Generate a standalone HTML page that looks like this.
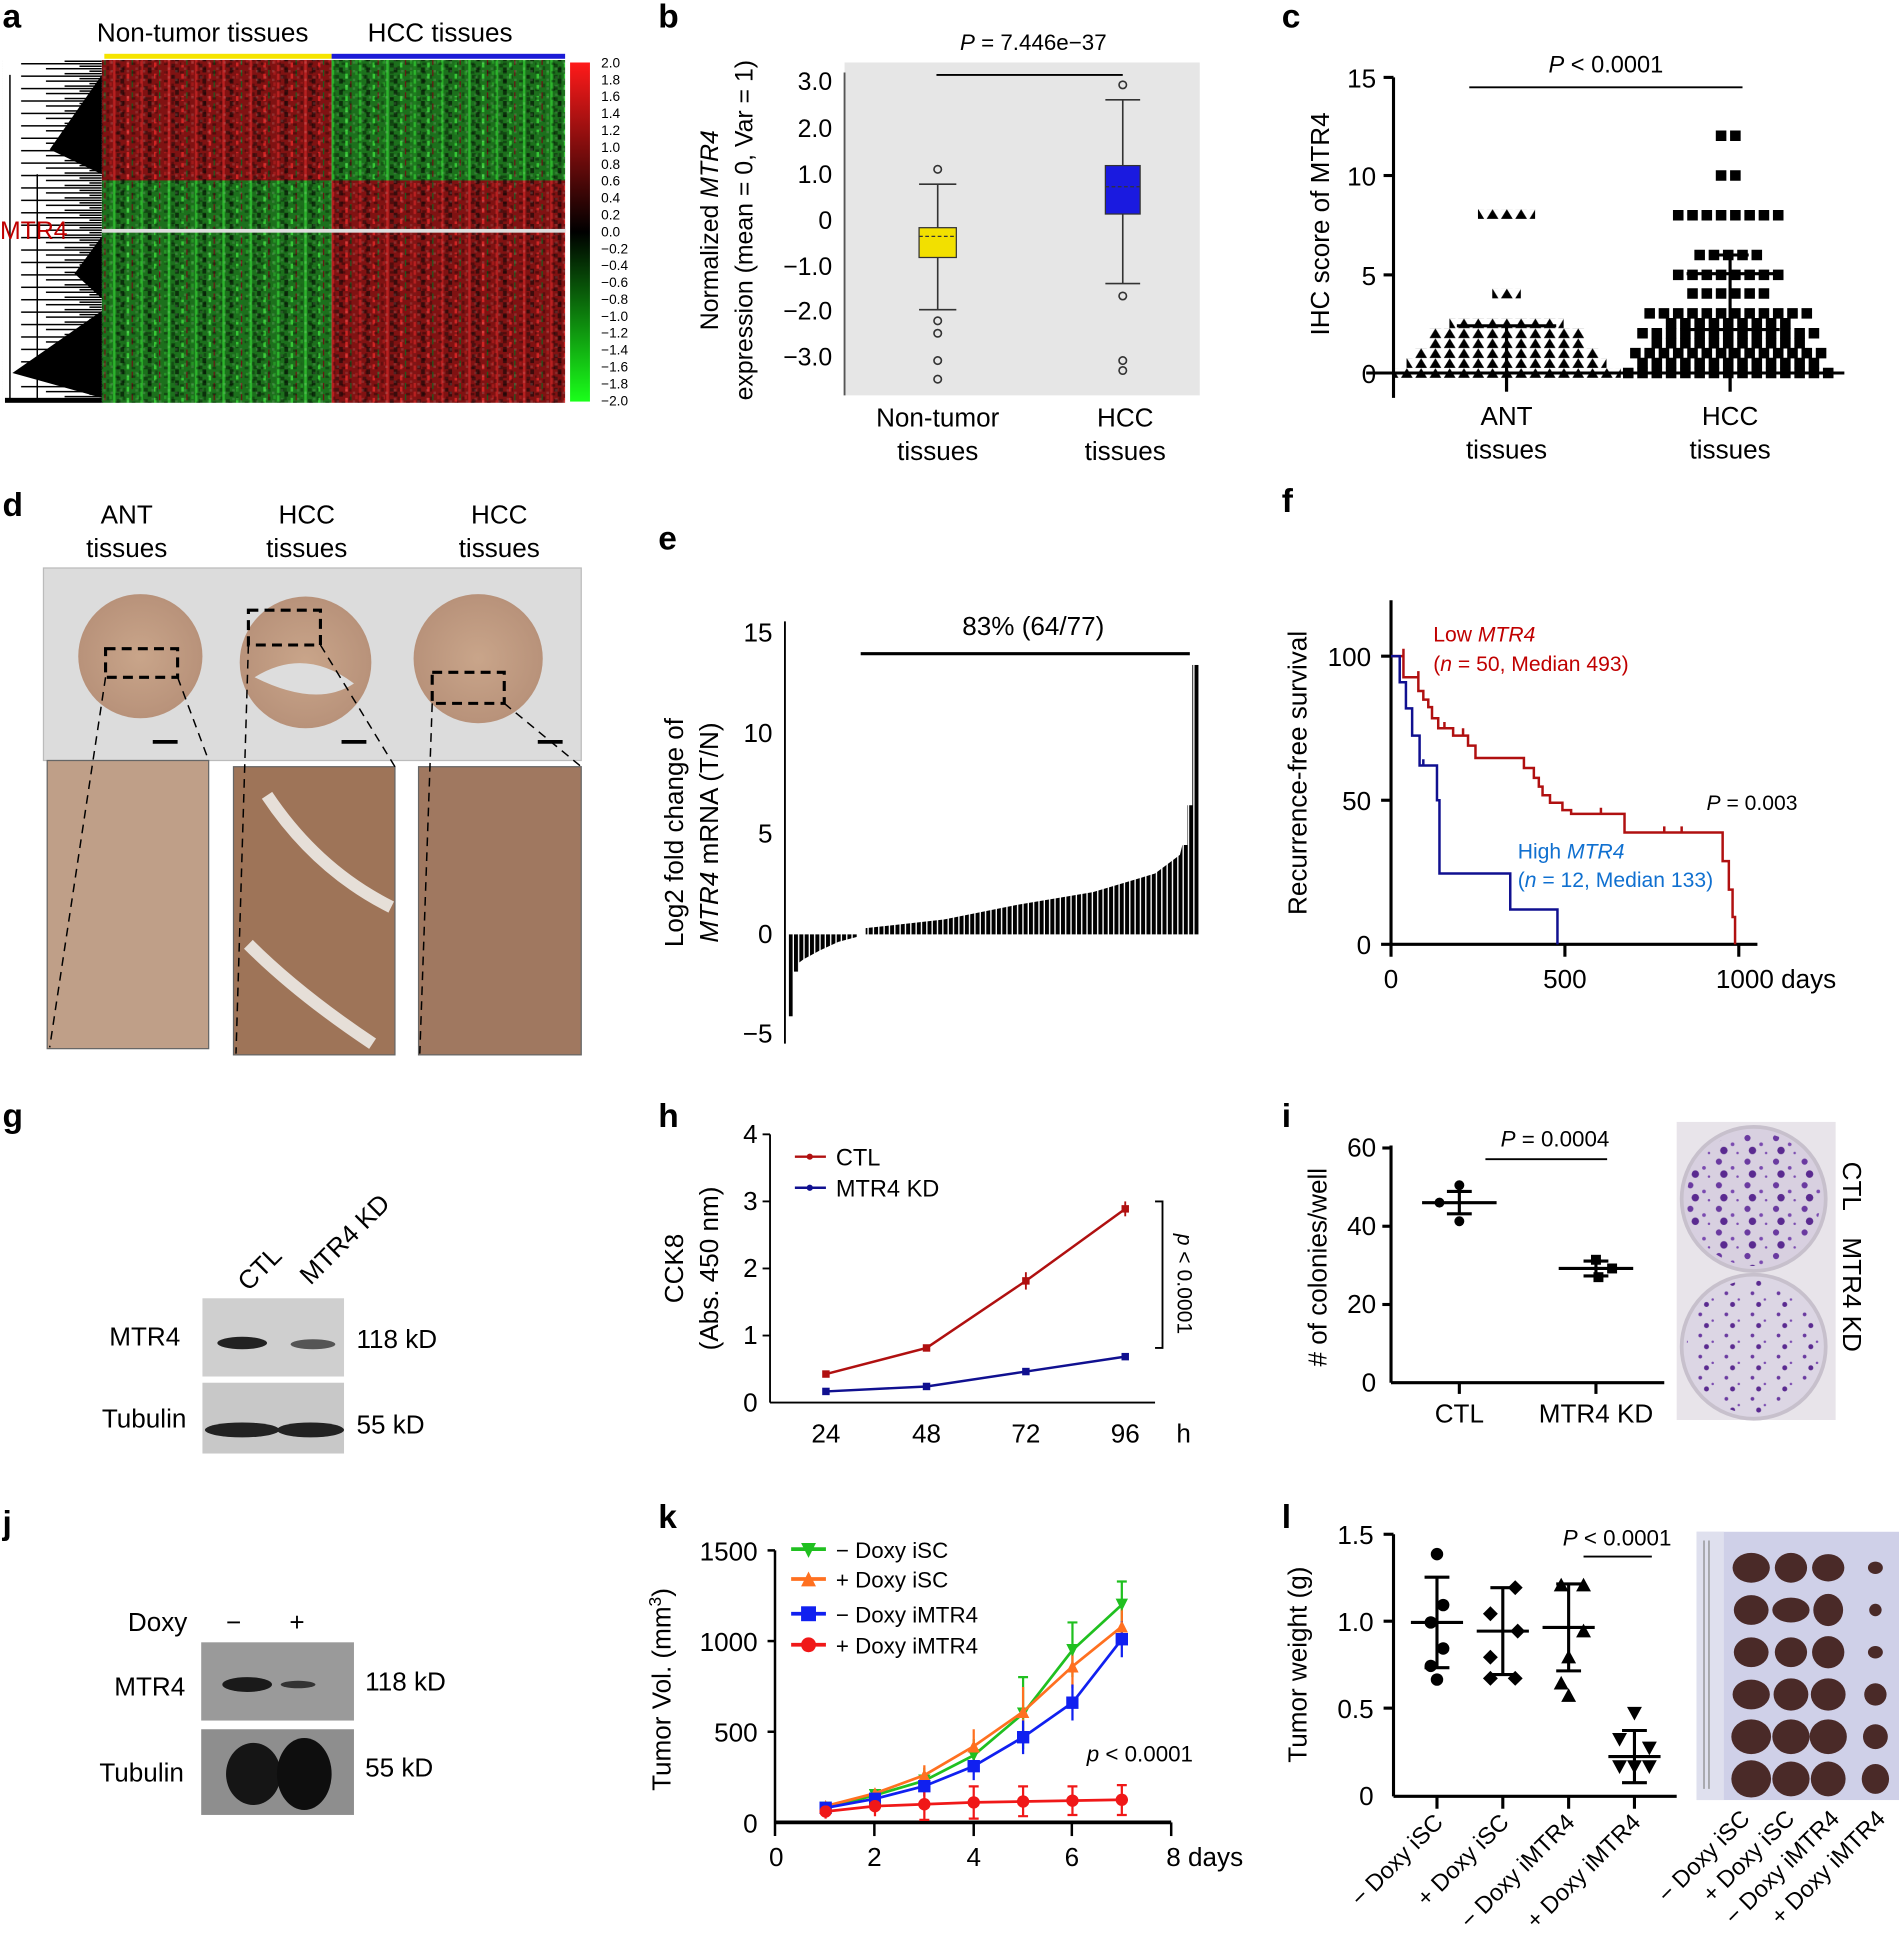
<!DOCTYPE html>
<html><head><meta charset="utf-8"><style>
html,body{margin:0;padding:0;background:#fff}
svg{display:block}
text{font-family:"Liberation Sans",Arial,sans-serif}
</style></head><body>
<svg xmlns="http://www.w3.org/2000/svg" width="1899" height="1947" viewBox="0 0 1529 1567">
<defs>
<linearGradient id="cb" x1="0" y1="0" x2="0" y2="1">
<stop offset="0" stop-color="#ff1a1a"/><stop offset="0.5" stop-color="#000"/><stop offset="1" stop-color="#1aff1a"/>
</linearGradient>
<radialGradient id="tis" cx="0.5" cy="0.5" r="0.5"><stop offset="0" stop-color="#c9a58a"/><stop offset="1" stop-color="#b8927a"/></radialGradient>
<pattern id="hr" width="22" height="9" patternUnits="userSpaceOnUse"><rect width="22" height="9" fill="#801212"/><rect x="3" width="2" height="9" fill="#b82020"/><rect x="9" width="3" height="4" fill="#3a0c0c"/><rect x="14" y="5" width="2" height="4" fill="#d02424"/><rect x="18" y="2" width="1" height="5" fill="#1e5a1e"/><rect x="6" y="6" width="3" height="3" fill="#4a1010"/><rect x="0" y="3" width="2" height="3" fill="#a01a1a"/></pattern>
<pattern id="hg" width="22" height="9" patternUnits="userSpaceOnUse"><rect width="22" height="9" fill="#1c701c"/><rect x="3" width="2" height="9" fill="#2cb42c"/><rect x="9" width="3" height="4" fill="#0c300c"/><rect x="14" y="5" width="2" height="4" fill="#36c836"/><rect x="18" y="2" width="1" height="5" fill="#6a1414"/><rect x="6" y="6" width="3" height="3" fill="#104410"/><rect x="0" y="3" width="2" height="3" fill="#259525"/></pattern>
<pattern id="nz" width="13" height="7" patternUnits="userSpaceOnUse"><rect x="2" y="1" width="3" height="2" fill="#000" opacity="0.35"/><rect x="8" y="4" width="2" height="3" fill="#000" opacity="0.3"/><rect x="11" y="0" width="2" height="2" fill="#fff" opacity="0.12"/><rect x="5" y="5" width="2" height="2" fill="#fff" opacity="0.1"/></pattern>
<pattern id="dg" x="2" y="48" width="80" height="10" patternUnits="userSpaceOnUse"><path d="M50 1H80M15 3H80M62 5H80M35 7H80M70 9H80" stroke="#000" stroke-width="1.2"/></pattern>
<pattern id="eb" x="635" y="0" width="4.3" height="10" patternUnits="userSpaceOnUse"><rect width="3.2" height="10" fill="#000"/></pattern>
<clipPath id="ec"><path d="M635,752 L635,818 L638.5,818 L638.5,782 L643,782 L643,775 L647,772 L660,765 L675,758 L690,754 L690,752 L697,752 L697,747 L760,740 L820,728 L880,718 L930,703 L950,688 L952,680 L956,680 L956,648 L960,648 L960,535 L965,535 L965,752 Z"/></clipPath>
<pattern id="tp" x="0" y="0" width="11.5" height="8" patternUnits="userSpaceOnUse"><path d="M1,7.9 L10.5,7.9 L5.75,0.1 Z" fill="#000"/></pattern>
<pattern id="col" width="23" height="19" patternUnits="userSpaceOnUse"><circle cx="4" cy="4" r="2.5" fill="#6a3aa0"/><circle cx="15" cy="9" r="1.5" fill="#7a4ab0"/><circle cx="8" cy="14" r="3" fill="#5a2a90"/><circle cx="19" cy="16" r="1" fill="#7a4ab0"/></pattern>
<pattern id="col2" width="21" height="17" patternUnits="userSpaceOnUse"><circle cx="4" cy="4" r="1.5" fill="#6a3aa0"/><circle cx="14" cy="9" r="1" fill="#7a4ab0"/><circle cx="9" cy="13" r="2" fill="#5a2a90"/></pattern>
<marker id="mg" viewBox="0 0 10 10" refX="5" refY="5" markerWidth="10" markerHeight="10" markerUnits="userSpaceOnUse"><path d="M0,0 L10,0 L5,10Z" fill="#20c020"/></marker>
<marker id="mo" viewBox="0 0 10 10" refX="5" refY="5" markerWidth="10" markerHeight="10" markerUnits="userSpaceOnUse"><path d="M0,10 L10,10 L5,0Z" fill="#ff7020"/></marker>
<marker id="mb" viewBox="0 0 10 10" refX="5" refY="5" markerWidth="10" markerHeight="10" markerUnits="userSpaceOnUse"><rect width="10" height="10" fill="#1020f0"/></marker>
<marker id="mr" viewBox="0 0 10 10" refX="5" refY="5" markerWidth="10" markerHeight="10" markerUnits="userSpaceOnUse"><circle cx="5" cy="5" r="5" fill="#f01818"/></marker>
</defs>
<g font-size="21" fill="#000">
<g font-weight="bold" font-size="27">
<text x="2" y="22">a</text><text x="530" y="22">b</text><text x="1032" y="22">c</text>
<text x="2" y="415">d</text><text x="530" y="442">e</text><text x="1032" y="412">f</text>
<text x="2" y="907">g</text><text x="530" y="907">h</text><text x="1032" y="907">i</text>
<text x="2" y="1235">j</text><text x="530" y="1230">k</text><text x="1032" y="1230">l</text>
</g>

<!-- a -->
<text x="78" y="33">Non-tumor tissues</text><text x="296" y="33">HCC tissues</text>
<rect x="84" y="43" width="183" height="4" fill="#f5e400"/><rect x="267" y="43" width="188" height="4" fill="#1b1bd6"/>
<rect x="82" y="48" width="185" height="97" fill="url(#hr)"/>
<rect x="267" y="48" width="188" height="97" fill="url(#hg)"/>
<rect x="82" y="145" width="185" height="179" fill="url(#hg)"/>
<rect x="267" y="145" width="188" height="179" fill="url(#hr)"/>
<rect x="82" y="48" width="373" height="276" fill="url(#nz)"/>
<rect x="82" y="184" width="373" height="3" fill="#ddd"/>
<rect x="2" y="48" width="80" height="276" fill="url(#dg)"/>
<path d="M100 0" />
<g fill="#000"><path d="M82,60 L40,120 L82,140Z M82,190 L60,220 L82,240Z M82,250 L10,300 L82,320Z M82,70 L55,100 L82,110Z"/></g>
<line x1="8" y1="60" x2="8" y2="322" stroke="#000" stroke-width="1.2"/>
<line x1="30" y1="140" x2="30" y2="322" stroke="#000" stroke-width="1.2"/>
<rect x="4" y="320" width="78" height="4" fill="#000"/>
<text x="0" y="192" fill="#c00000" font-size="20">MTR4</text>
<rect x="459" y="50" width="16" height="273" fill="url(#cb)"/>
<g font-size="11">
<text x="484" y="54">2.0</text><text x="484" y="67.6">1.8</text><text x="484" y="81.2">1.6</text><text x="484" y="94.8">1.4</text><text x="484" y="108.4">1.2</text><text x="484" y="122">1.0</text><text x="484" y="135.6">0.8</text><text x="484" y="149.2">0.6</text><text x="484" y="162.8">0.4</text><text x="484" y="176.4">0.2</text><text x="484" y="190">0.0</text><text x="484" y="203.6">−0.2</text><text x="484" y="217.2">−0.4</text><text x="484" y="230.8">−0.6</text><text x="484" y="244.4">−0.8</text><text x="484" y="258">−1.0</text><text x="484" y="271.6">−1.2</text><text x="484" y="285.2">−1.4</text><text x="484" y="298.8">−1.6</text><text x="484" y="312.4">−1.8</text><text x="484" y="326">−2.0</text>
</g>

<!-- b -->
<rect x="680" y="50" width="286" height="268" fill="#e6e6e6"/>
<line x1="680" y1="58" x2="680" y2="318" stroke="#555" stroke-width="1.5"/>
<g font-size="20" text-anchor="end">
<text x="670" y="72">3.0</text><text x="670" y="110">2.0</text><text x="670" y="147">1.0</text><text x="670" y="184">0</text>
<text x="670" y="221">−1.0</text><text x="670" y="257">−2.0</text><text x="670" y="294">−3.0</text></g>
<text transform="translate(578,185) rotate(-90)" text-anchor="middle" font-size="20">Normalized <tspan font-style="italic">MTR4</tspan></text>
<text transform="translate(606,185) rotate(-90)" text-anchor="middle" font-size="20">expression (mean = 0, Var = 1)</text>
<text x="832" y="40" text-anchor="middle" font-size="18"><tspan font-style="italic">P</tspan> = 7.446e−37</text>
<line x1="754" y1="60" x2="904" y2="60" stroke="#000" stroke-width="1.5"/>
<g stroke="#333" stroke-width="1.3" fill="none">
<line x1="755" y1="148" x2="755" y2="249"/><line x1="740" y1="148" x2="770" y2="148"/><line x1="740" y1="249" x2="770" y2="249"/>
<line x1="904" y1="80" x2="904" y2="228"/><line x1="890" y1="80" x2="918" y2="80"/><line x1="890" y1="228" x2="918" y2="228"/>
<circle cx="755" cy="136" r="3"/><circle cx="755" cy="258" r="3"/><circle cx="755" cy="268" r="3"/><circle cx="755" cy="290" r="3"/><circle cx="755" cy="305" r="3"/>
<circle cx="904" cy="68" r="3"/><circle cx="904" cy="238" r="3"/><circle cx="904" cy="290" r="3"/><circle cx="904" cy="298" r="3"/>
</g>
<rect x="740" y="183" width="30" height="24" fill="#f2e000" stroke="#333"/>
<line x1="740" y1="190" x2="770" y2="190" stroke="#333" stroke-dasharray="3 2"/>
<rect x="890" y="133" width="28" height="39" fill="#1a1ae0" stroke="#333"/>
<line x1="890" y1="150" x2="918" y2="150" stroke="#333" stroke-dasharray="3 2"/>
<text x="755" y="343" text-anchor="middle">Non-tumor</text><text x="755" y="370" text-anchor="middle">tissues</text>
<text x="906" y="343" text-anchor="middle">HCC</text><text x="906" y="370" text-anchor="middle">tissues</text>

<!-- c -->
<line x1="1122" y1="62" x2="1122" y2="320" stroke="#000" stroke-width="2.5"/>
<line x1="1100" y1="300" x2="1485" y2="300" stroke="#000" stroke-width="2.5"/>
<g stroke="#000" stroke-width="2.5"><line x1="1114" y1="62" x2="1122" y2="62"/><line x1="1114" y1="141" x2="1122" y2="141"/><line x1="1114" y1="221" x2="1122" y2="221"/><line x1="1213" y1="300" x2="1213" y2="315"/><line x1="1393" y1="300" x2="1393" y2="315"/></g>
<g text-anchor="end"><text x="1108" y="70">15</text><text x="1108" y="149">10</text><text x="1108" y="229">5</text><text x="1108" y="308">0</text></g>
<text transform="translate(1070,180) rotate(-90)" text-anchor="middle">IHC score of MTR4</text>
<text x="1293" y="58" text-anchor="middle" font-size="19"><tspan font-style="italic">P</tspan> &lt; 0.0001</text>
<line x1="1183" y1="70" x2="1403" y2="70" stroke="#000" stroke-width="1.5"/>
<g fill="url(#tp)">
<rect x="1190" y="168" width="46" height="8"/>
<rect x="1201.5" y="232" width="23" height="8"/>
<rect x="1167" y="256" width="92" height="8"/>
<rect x="1149.75" y="264" width="126.5" height="8"/>
<rect x="1149.75" y="272" width="126.5" height="8"/>
<rect x="1138.25" y="280" width="149.5" height="8"/>
<rect x="1132.5" y="288" width="161" height="8"/>
<rect x="1121" y="296" width="184" height="8"/>
</g>
<g stroke="#000" stroke-width="8.5" stroke-dasharray="8.5 3">
<line x1="1381.5" y1="109" x2="1404.5" y2="109"/>
<line x1="1381.5" y1="141" x2="1404.5" y2="141"/>
<line x1="1347" y1="173" x2="1439" y2="173"/>
<line x1="1364.25" y1="205" x2="1421.75" y2="205"/>
<line x1="1347" y1="221" x2="1439" y2="221"/>
<line x1="1358.5" y1="236" x2="1427.5" y2="236"/>
<line x1="1324" y1="252" x2="1462" y2="252"/>
<line x1="1341.25" y1="260" x2="1444.75" y2="260"/>
<line x1="1318.25" y1="268" x2="1467.75" y2="268"/>
<line x1="1329.75" y1="276" x2="1456.25" y2="276"/>
<line x1="1312.5" y1="284" x2="1473.5" y2="284"/>
<line x1="1318.25" y1="292" x2="1467.75" y2="292"/>
<line x1="1306.75" y1="300" x2="1479.25" y2="300"/>
</g>
<g stroke="#000" stroke-width="2.5">
<line x1="1173" y1="262" x2="1253" y2="262"/><line x1="1213" y1="262" x2="1213" y2="315"/>
<line x1="1358" y1="220" x2="1428" y2="220"/><line x1="1353" y1="265" x2="1433" y2="265"/>
<line x1="1393" y1="205" x2="1393" y2="315"/><line x1="1378" y1="205" x2="1408" y2="205"/>
</g>
<text x="1213" y="342" text-anchor="middle">ANT</text><text x="1213" y="369" text-anchor="middle">tissues</text>
<text x="1393" y="342" text-anchor="middle">HCC</text><text x="1393" y="369" text-anchor="middle">tissues</text>

<!-- d -->
<text x="102" y="421" text-anchor="middle">ANT</text><text x="102" y="448" text-anchor="middle">tissues</text>
<text x="247" y="421" text-anchor="middle">HCC</text><text x="247" y="448" text-anchor="middle">tissues</text>
<text x="402" y="421" text-anchor="middle">HCC</text><text x="402" y="448" text-anchor="middle">tissues</text>
<rect x="35" y="457" width="433" height="155" fill="#dcdcdc" stroke="#bbb"/>
<circle cx="113" cy="528" r="50" fill="url(#tis)"/>
<circle cx="246" cy="533" r="53" fill="url(#tis)"/>
<path d="M205 545 q40 -25 80 5 q-30 20 -80 -5z" fill="#ddd"/>
<circle cx="385" cy="530" r="52" fill="url(#tis)"/>
<g fill="none" stroke="#000" stroke-width="2.5" stroke-dasharray="8 5">
<rect x="85" y="522" width="58" height="23"/><rect x="200" y="491" width="58" height="28"/><rect x="348" y="541" width="58" height="25"/></g>
<g stroke="#000" stroke-width="3"><line x1="123" y1="597" x2="143" y2="597"/><line x1="275" y1="597" x2="295" y2="597"/><line x1="433" y1="597" x2="453" y2="597"/></g>
<rect x="38" y="612" width="130" height="232" fill="#bf9f88" stroke="#666"/>
<rect x="188" y="617" width="130" height="232" fill="#9e7458" stroke="#666"/>
<rect x="337" y="617" width="131" height="232" fill="#a07860" stroke="#666"/>
<path d="M215 640 q40 60 100 90 M200 760 q40 40 100 80" stroke="#e6dfd8" stroke-width="10" fill="none"/>
<g fill="none" stroke="#000" stroke-width="1.2" stroke-dasharray="7 5">
<line x1="85" y1="545" x2="40" y2="843"/><line x1="143" y1="545" x2="168" y2="612"/>
<line x1="200" y1="519" x2="190" y2="848"/><line x1="258" y1="519" x2="318" y2="617"/>
<line x1="348" y1="566" x2="338" y2="848"/><line x1="406" y1="566" x2="468" y2="617"/></g>

<!-- e -->
<line x1="632" y1="500" x2="632" y2="840" stroke="#000" stroke-width="1.5"/>
<g text-anchor="end"><text x="622" y="516">15</text><text x="622" y="597">10</text><text x="622" y="678">5</text><text x="622" y="759">0</text><text x="622" y="839">−5</text></g>
<text transform="translate(550,670) rotate(-90)" text-anchor="middle">Log2 fold change of</text>
<text transform="translate(578,670) rotate(-90)" text-anchor="middle"><tspan font-style="italic">MTR4</tspan> mRNA (T/N)</text>
<text x="832" y="511" text-anchor="middle">83% (64/77)</text>
<line x1="693" y1="526" x2="958" y2="526" stroke="#000" stroke-width="2.5"/>
<rect x="635" y="530" width="330" height="290" fill="url(#eb)" clip-path="url(#ec)"/>

<!-- f -->
<line x1="1120" y1="483" x2="1120" y2="770" stroke="#000" stroke-width="2.5"/>
<line x1="1112" y1="760" x2="1415" y2="760" stroke="#000" stroke-width="2.5"/>
<g stroke="#000" stroke-width="2.5"><line x1="1112" y1="528" x2="1120" y2="528"/><line x1="1112" y1="644" x2="1120" y2="644"/><line x1="1260" y1="760" x2="1260" y2="770"/><line x1="1400" y1="760" x2="1400" y2="770"/></g>
<g text-anchor="end"><text x="1104" y="536">100</text><text x="1104" y="652">50</text><text x="1104" y="768">0</text></g>
<text x="1120" y="795" text-anchor="middle">0</text><text x="1260" y="795" text-anchor="middle">500</text><text x="1430" y="795" text-anchor="middle">1000  days</text>
<text transform="translate(1052,622) rotate(-90)" text-anchor="middle">Recurrence-free survival</text>
<path d="M1120,528 H1130 V522 V545 H1142 V540 V556 H1146 V563 H1150 V569 H1153 V578 H1158 V586 H1163 V581 V586 H1170 V592 H1178 V586 V592 H1182 V600 H1188 V610 H1227 V618 H1235 V626 H1239 V633 H1242 V640 H1248 V646 H1258 V652 H1265 V655 H1289 V650 V655 H1308 V670 H1340 V665 V670 H1354 V665 V670 H1387 V693 H1392 V716 H1395 V738 H1397 V760" fill="none" stroke="#b01010" stroke-width="2"/>
<path d="M1120,528 H1127 V549 H1132 V570 H1137 V592 H1143 V616 H1146 V611 V616 H1157 V644 H1159 V703 H1216 V732 H1254 V760" fill="none" stroke="#101090" stroke-width="2"/>
<text x="1154" y="516" fill="#c00000" font-size="17">Low <tspan font-style="italic">MTR4</tspan></text>
<text x="1154" y="540" fill="#c00000" font-size="17">(<tspan font-style="italic">n</tspan> = 50, Median 493)</text>
<text x="1222" y="691" fill="#1070d0" font-size="17">High <tspan font-style="italic">MTR4</tspan></text>
<text x="1222" y="714" fill="#1070d0" font-size="17">(<tspan font-style="italic">n</tspan> = 12, Median 133)</text>
<text x="1374" y="652" font-size="17"><tspan font-style="italic">P</tspan> = 0.003</text>

<!-- g -->
<text transform="translate(200,1040) rotate(-45)">CTL</text>
<text transform="translate(250,1035) rotate(-45)">MTR4 KD</text>
<rect x="163" y="1045" width="114" height="63" fill="#cfcfcf"/>
<rect x="163" y="1113" width="114" height="57" fill="#c8c8c8"/>
<ellipse cx="195" cy="1081" rx="20" ry="5" fill="#222"/><ellipse cx="252" cy="1082" rx="18" ry="4" fill="#555"/>
<ellipse cx="195" cy="1151" rx="30" ry="6" fill="#222"/><ellipse cx="250" cy="1151" rx="27" ry="6" fill="#222"/>
<text x="88" y="1083">MTR4</text><text x="82" y="1149">Tubulin</text>
<text x="287" y="1085">118 kD</text><text x="287" y="1154">55 kD</text>

<!-- h -->
<line x1="620" y1="913" x2="620" y2="1129" stroke="#000" stroke-width="1.5"/>
<line x1="620" y1="1129" x2="930" y2="1129" stroke="#000" stroke-width="1.5"/>
<g text-anchor="end"><text x="610" y="920">4</text><text x="610" y="974">3</text><text x="610" y="1028">2</text><text x="610" y="1082">1</text><text x="610" y="1136">0</text></g>
<g stroke="#000" stroke-width="1.5"><line x1="614" y1="913" x2="620" y2="913"/><line x1="614" y1="967" x2="620" y2="967"/><line x1="614" y1="1021" x2="620" y2="1021"/><line x1="614" y1="1075" x2="620" y2="1075"/></g>
<g text-anchor="middle"><text x="665" y="1161">24</text><text x="746" y="1161">48</text><text x="826" y="1161">72</text><text x="906" y="1161">96</text><text x="953" y="1161">h</text></g>
<text transform="translate(550,1021) rotate(-90)" text-anchor="middle">CCK8</text>
<text transform="translate(578,1021) rotate(-90)" text-anchor="middle">(Abs. 450 nm)</text>
<polyline points="665,1106 746,1085 826,1031 906,973" fill="none" stroke="#b01010" stroke-width="2"/>
<polyline points="665,1120 746,1116 826,1104 906,1092" fill="none" stroke="#101090" stroke-width="2"/>
<g fill="#b01010"><rect x="662" y="1103" width="6" height="6"/><rect x="743" y="1082" width="6" height="6"/><rect x="823" y="1028" width="6" height="6"/><rect x="903" y="970" width="6" height="6"/></g>
<g stroke="#b01010" stroke-width="1.5"><line x1="826" y1="1024" x2="826" y2="1038"/><line x1="906" y1="967" x2="906" y2="979"/></g>
<g fill="#101090"><rect x="662" y="1117" width="6" height="6"/><rect x="743" y="1113" width="6" height="6"/><rect x="823" y="1101" width="6" height="6"/><rect x="903" y="1089" width="6" height="6"/></g>
<line x1="640" y1="931" x2="665" y2="931" stroke="#b01010" stroke-width="2"/><circle cx="652" cy="931" r="2.5" fill="#b01010"/>
<line x1="640" y1="956" x2="665" y2="956" stroke="#101090" stroke-width="2"/><circle cx="652" cy="956" r="2.5" fill="#101090"/>
<text x="673" y="938" font-size="19">CTL</text><text x="673" y="963" font-size="19">MTR4 KD</text>
<polyline points="930,967 936,967 936,1085 930,1085" fill="none" stroke="#000" stroke-width="1.5"/>
<text transform="translate(948,993) rotate(90)" font-size="17"><tspan font-style="italic">p</tspan> &lt; 0.0001</text>

<!-- i -->
<line x1="1120" y1="922" x2="1120" y2="1113" stroke="#000" stroke-width="2.5"/>
<line x1="1120" y1="1113" x2="1340" y2="1113" stroke="#000" stroke-width="2.5"/>
<g text-anchor="end"><text x="1108" y="931">60</text><text x="1108" y="994">40</text><text x="1108" y="1057">20</text><text x="1108" y="1120">0</text></g>
<g stroke="#000" stroke-width="2.5"><line x1="1113" y1="924" x2="1120" y2="924"/><line x1="1113" y1="987" x2="1120" y2="987"/><line x1="1113" y1="1050" x2="1120" y2="1050"/><line x1="1175" y1="1113" x2="1175" y2="1122"/><line x1="1285" y1="1113" x2="1285" y2="1122"/></g>
<text transform="translate(1068,1020) rotate(-90)" text-anchor="middle"># of colonies/well</text>
<text x="1252" y="923" text-anchor="middle" font-size="18"><tspan font-style="italic">P</tspan> = 0.0004</text>
<line x1="1196" y1="933" x2="1294" y2="933" stroke="#000" stroke-width="1.5"/>
<g stroke="#000" stroke-width="2.5"><line x1="1145" y1="968" x2="1205" y2="968"/><line x1="1175" y1="959" x2="1175" y2="977"/><line x1="1165" y1="959" x2="1185" y2="959"/><line x1="1165" y1="977" x2="1185" y2="977"/>
<line x1="1255" y1="1021" x2="1315" y2="1021"/><line x1="1285" y1="1015" x2="1285" y2="1027"/><line x1="1275" y1="1015" x2="1295" y2="1015"/><line x1="1275" y1="1027" x2="1295" y2="1027"/></g>
<g fill="#000"><circle cx="1175" cy="954" r="4"/><circle cx="1159" cy="968" r="4"/><circle cx="1175" cy="983" r="4"/><rect x="1281" y="1010" width="8" height="8"/><rect x="1294" y="1017" width="8" height="8"/><rect x="1283" y="1024" width="8" height="8"/></g>
<text x="1175" y="1145" text-anchor="middle">CTL</text><text x="1285" y="1145" text-anchor="middle">MTR4 KD</text>
<rect x="1350" y="903" width="128" height="240" fill="#e8e4ea"/>
<circle cx="1412" cy="965" r="58" fill="#d8d0e0" stroke="#c7c0cc" stroke-width="3"/>
<circle cx="1412" cy="1084" r="58" fill="#dcd6e4" stroke="#c7c0cc" stroke-width="3"/>
<circle cx="1412" cy="965" r="54" fill="url(#col)"/>
<circle cx="1412" cy="1084" r="54" fill="url(#col2)"/>
<text transform="translate(1484,935) rotate(90)">CTL</text>
<text transform="translate(1484,996) rotate(90)">MTR4 KD</text>

<!-- j -->
<text x="103" y="1313">Doxy</text><text x="182" y="1313">−</text><text x="233" y="1313">+</text>
<rect x="162" y="1322" width="123" height="63" fill="#9a9a9a"/>
<rect x="162" y="1392" width="123" height="69" fill="#8e8e8e"/>
<ellipse cx="199" cy="1356" rx="20" ry="6" fill="#1a1a1a"/><ellipse cx="240" cy="1356" rx="14" ry="3" fill="#333"/>
<ellipse cx="204" cy="1428" rx="22" ry="25" fill="#151515"/><ellipse cx="245" cy="1428" rx="22" ry="29" fill="#0e0e0e"/>
<text x="92" y="1365">MTR4</text><text x="80" y="1434">Tubulin</text>
<text x="294" y="1361">118 kD</text><text x="294" y="1430">55 kD</text>

<!-- k -->
<line x1="624" y1="1248" x2="624" y2="1478" stroke="#000" stroke-width="2"/>
<line x1="624" y1="1467" x2="943" y2="1467" stroke="#000" stroke-width="3"/>
<g stroke="#000" stroke-width="2"><line x1="618" y1="1248" x2="624" y2="1248"/><line x1="618" y1="1321" x2="624" y2="1321"/><line x1="618" y1="1394" x2="624" y2="1394"/><line x1="704" y1="1467" x2="704" y2="1478"/><line x1="784" y1="1467" x2="784" y2="1478"/><line x1="863" y1="1467" x2="863" y2="1478"/><line x1="943" y1="1467" x2="943" y2="1478"/></g>
<g text-anchor="end"><text x="610" y="1256">1500</text><text x="610" y="1329">1000</text><text x="610" y="1402">500</text><text x="610" y="1475">0</text></g>
<g text-anchor="middle"><text x="625" y="1502">0</text><text x="704" y="1502">2</text><text x="784" y="1502">4</text><text x="863" y="1502">6</text><text x="970" y="1502">8 days</text></g>
<text transform="translate(540,1360) rotate(-90)" text-anchor="middle">Tumor Vol. (mm<tspan dy="-8" font-size="14">3</tspan><tspan dy="8">)</tspan></text>
<g stroke-width="1.8" fill="none">
<path stroke="#20c020" d="M704.5,1440v10M744.25,1423v20M784,1400v26M823.75,1350v58M863.5,1306v44M903.25,1273v37"/>
<path stroke="#ff7020" d="M744.25,1421v16M784,1392v27M823.75,1358v40M863.5,1324v35M903.25,1294v30"/>
<path stroke="#1020f0" d="M744.25,1430v16M784,1410v23M823.75,1385v27M863.5,1356v29M903.25,1305v29"/>
<path stroke="#f01818" d="M664.75,1452v12M704.5,1446v16M744.25,1440v25M784,1438v26M823.75,1438v24M863.5,1438v23M903.25,1437v24"/>
<path stroke="#20c020" d="M859.5,1306h8M899.25,1273h8M819.75,1350h8"/>
<path stroke="#f01818" d="M740.25,1440h8M740.25,1465h8M780,1438h8M780,1464h8M819.75,1438h8M819.75,1462h8M859.5,1438h8M859.5,1461h8M899.25,1437h8M899.25,1461h8"/>
</g>
<g fill="none" stroke-width="2.2">
<polyline stroke="#20c020" marker-start="url(#mg)" marker-mid="url(#mg)" marker-end="url(#mg)" points="664.75,1455.3 704.5,1445.1 744.25,1433.4 784,1413 823.75,1379.4 863.5,1328.3 903.25,1291.8"/>
<polyline stroke="#ff7020" marker-start="url(#mo)" marker-mid="url(#mo)" marker-end="url(#mo)" points="664.75,1453.9 704.5,1443.6 744.25,1429 784,1405.7 823.75,1377.9 863.5,1341.4 903.25,1309.3"/>
<polyline stroke="#1020f0" marker-start="url(#mb)" marker-mid="url(#mb)" marker-end="url(#mb)" points="664.75,1455.3 704.5,1448 744.25,1437.8 784,1421.7 823.75,1398.4 863.5,1370.6 903.25,1319.5"/>
<polyline stroke="#f01818" marker-start="url(#mr)" marker-mid="url(#mr)" marker-end="url(#mr)" points="664.75,1458.2 704.5,1453.9 744.25,1452.4 784,1450.9 823.75,1450.2 863.5,1449.5 903.25,1448.8"/>
</g>
<g stroke-width="3">
<line x1="637" y1="1247" x2="665" y2="1247" stroke="#20c020"/><path d="M645,1242 L657,1242 L651,1254Z" fill="#20c020"/>
<line x1="637" y1="1271" x2="665" y2="1271" stroke="#ff7020"/><path d="M645,1277 L657,1277 L651,1265Z" fill="#ff7020"/>
<line x1="637" y1="1299" x2="665" y2="1299" stroke="#1020f0"/><rect x="645" y="1293" width="12" height="12" fill="#1020f0"/>
<line x1="637" y1="1324" x2="665" y2="1324" stroke="#f01818"/><circle cx="651" cy="1324" r="6" fill="#f01818"/>
</g>
<text x="875" y="1418" font-size="18"><tspan font-style="italic">p</tspan> &lt; 0.0001</text>
<g font-size="18"><text x="673" y="1254">− Doxy iSC</text><text x="673" y="1278">+ Doxy iSC</text><text x="673" y="1306">− Doxy iMTR4</text><text x="673" y="1331">+ Doxy iMTR4</text></g>

<!-- l -->
<line x1="1122" y1="1235" x2="1122" y2="1446" stroke="#000" stroke-width="2.5"/>
<line x1="1122" y1="1446" x2="1350" y2="1446" stroke="#000" stroke-width="2.5"/>
<g stroke="#000" stroke-width="2.5"><line x1="1114" y1="1235" x2="1122" y2="1235"/><line x1="1114" y1="1305" x2="1122" y2="1305"/><line x1="1114" y1="1375" x2="1122" y2="1375"/><line x1="1157" y1="1446" x2="1157" y2="1456"/><line x1="1210" y1="1446" x2="1210" y2="1456"/><line x1="1263" y1="1446" x2="1263" y2="1456"/><line x1="1316" y1="1446" x2="1316" y2="1456"/></g>
<g text-anchor="end"><text x="1106" y="1243">1.5</text><text x="1106" y="1313">1.0</text><text x="1106" y="1383">0.5</text><text x="1106" y="1453">0</text></g>
<text transform="translate(1052,1340) rotate(-90)" text-anchor="middle">Tumor weight (g)</text>
<text x="1302" y="1244" text-anchor="middle" font-size="18"><tspan font-style="italic">P</tspan> &lt; 0.0001</text>
<line x1="1275" y1="1253" x2="1330" y2="1253" stroke="#000" stroke-width="1.5"/>
<g fill="#000">
<circle cx="1157" cy="1251" r="5"/><circle cx="1162" cy="1292" r="5"/><circle cx="1152" cy="1306" r="5"/><circle cx="1162" cy="1327" r="5"/><circle cx="1152" cy="1341" r="5"/><circle cx="1157" cy="1352" r="5"/>
<path d="M1220,1272l6,6l-6,6l-6,-6z M1200,1293l6,6l-6,6l-6,-6z M1222,1307l6,6l-6,6l-6,-6z M1200,1328l6,6l-6,6l-6,-6z M1200,1345l6,6l-6,6l-6,-6z M1220,1345l6,6l-6,6l-6,-6z"/>
<path d="M1269,1281l6,-11l6,11z M1251,1281l6,-11l6,11z M1251,1360l6,-11l6,11z M1269,1318l6,-11l6,11z M1257,1339l6,-11l6,11z M1257,1370l6,-11l6,11z"/>
<path d="M1310,1374l6,11l6,-11z M1298,1395l6,11l6,-11z M1322,1402l6,11l6,-11z M1298,1417l6,11l6,-11z M1310,1417l6,11l6,-11z M1322,1417l6,11l6,-11z"/>
</g>
<g stroke="#000" stroke-width="2.5">
<path d="M1136,1306h42M1157,1269.6v72.8M1147,1269.6h20M1147,1342.4h20"/>
<path d="M1189,1313h42M1210,1278v70M1200,1278h20M1200,1348h20"/>
<path d="M1242,1310h42M1263,1275v70M1253,1275h20M1253,1345h20"/>
<path d="M1295,1414h42M1316,1393v42M1306,1393h20M1306,1435h20"/>
</g>
<g font-size="19" text-anchor="end">
<text transform="translate(1163,1468) rotate(-45)">− Doxy iSC</text>
<text transform="translate(1216,1468) rotate(-45)">+ Doxy iSC</text>
<text transform="translate(1269,1468) rotate(-45)">− Doxy iMTR4</text>
<text transform="translate(1322,1468) rotate(-45)">+ Doxy iMTR4</text>
<text transform="translate(1410,1465) rotate(-45)">− Doxy iSC</text>
<text transform="translate(1446,1465) rotate(-45)">+ Doxy iSC</text>
<text transform="translate(1482,1465) rotate(-45)">− Doxy iMTR4</text>
<text transform="translate(1519,1465) rotate(-45)">+ Doxy iMTR4</text>
</g>
<rect x="1366" y="1233" width="163" height="216" fill="#cfd0e8"/>
<rect x="1366" y="1233" width="22" height="216" fill="#dfe0ee"/>
<g fill="#4a2a28">
<ellipse cx="1410" cy="1262" rx="15" ry="12"/><ellipse cx="1442" cy="1262" rx="13" ry="12"/><ellipse cx="1472" cy="1262" rx="13" ry="11"/><ellipse cx="1510" cy="1262" rx="6" ry="5"/>
<ellipse cx="1410" cy="1296" rx="14" ry="12"/><ellipse cx="1442" cy="1296" rx="15" ry="10"/><ellipse cx="1472" cy="1296" rx="12" ry="13"/><ellipse cx="1510" cy="1296" rx="5" ry="5"/>
<ellipse cx="1410" cy="1330" rx="14" ry="12"/><ellipse cx="1442" cy="1330" rx="13" ry="12"/><ellipse cx="1472" cy="1330" rx="13" ry="13"/><ellipse cx="1510" cy="1330" rx="6" ry="5"/>
<ellipse cx="1410" cy="1364" rx="15" ry="12"/><ellipse cx="1442" cy="1364" rx="14" ry="13"/><ellipse cx="1472" cy="1364" rx="14" ry="13"/><ellipse cx="1510" cy="1364" rx="9" ry="9"/>
<ellipse cx="1410" cy="1398" rx="16" ry="14"/><ellipse cx="1442" cy="1398" rx="15" ry="14"/><ellipse cx="1472" cy="1398" rx="15" ry="14"/><ellipse cx="1510" cy="1398" rx="10" ry="10"/>
<ellipse cx="1410" cy="1432" rx="16" ry="15"/><ellipse cx="1442" cy="1432" rx="15" ry="14"/><ellipse cx="1472" cy="1432" rx="14" ry="14"/><ellipse cx="1510" cy="1432" rx="11" ry="12"/>
</g>
<g stroke="#888" stroke-width="1"><path d="M1372,1240v200M1376,1240v200"/></g>
</g>
</svg>
</body></html>
